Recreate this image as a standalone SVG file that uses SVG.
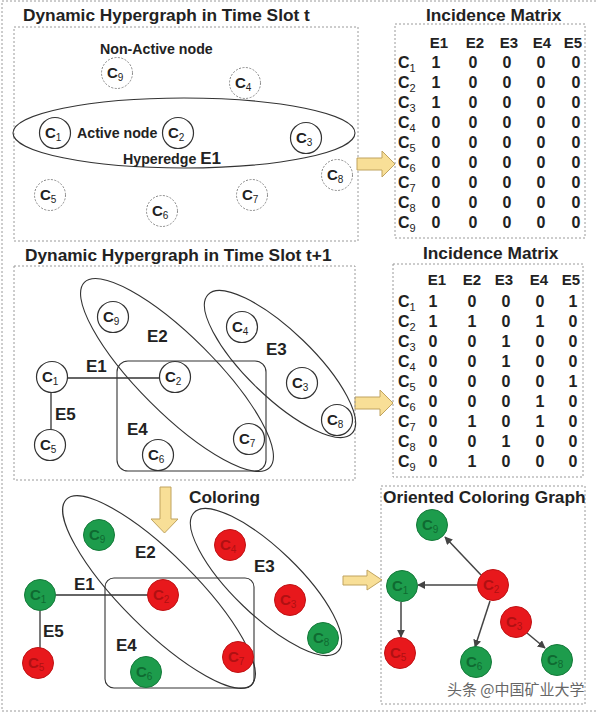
<svg xmlns="http://www.w3.org/2000/svg" width="599" height="713" viewBox="0 0 599 713">
<defs>
<style>
text{font-family:"Liberation Sans",Arial,sans-serif;fill:#222}
.title{font-size:17.3px;font-weight:bold}
.lbl{font-size:14.2px;font-weight:bold}
.el{font-size:17px;font-weight:bold}
.frame{fill:none;stroke:#9a9a9a;stroke-width:1;stroke-dasharray:2 2}
.act{fill:#fff;stroke:#333;stroke-width:1.2}
.ina{fill:#fff;stroke:#888;stroke-width:1;stroke-dasharray:2 1.5}
.nt{font-size:15px;font-weight:bold;fill:#222}
.sub{font-size:10px;font-weight:normal}
.hedge{fill:none;stroke:#333;stroke-width:1.1}
.edge{stroke:#333;stroke-width:1.3;fill:none}
.arrow{fill:#f8df97;stroke:#c0a35e;stroke-width:1}
.g{fill:#1d9c4c;stroke:#157a3a;stroke-width:1}
.r{fill:#e8181c;stroke:#c01214;stroke-width:1}
.gt{font-size:15px;font-weight:bold;fill:#0f6a31}
.rt{font-size:15px;font-weight:bold;fill:#b01012}
.mh{font-size:15px;font-weight:bold;text-anchor:middle}
.mv{font-size:16px;font-weight:bold;text-anchor:middle}
.mr{font-size:16px;font-weight:bold}
.msub{font-size:11px;font-weight:normal}
.og{stroke:#444;stroke-width:1.5;fill:none;marker-end:url(#ah)}
</style>
<marker id="ah" viewBox="0 0 10 10" refX="9" refY="5" markerWidth="8" markerHeight="8" markerUnits="userSpaceOnUse" orient="auto">
<path d="M0,0 L10,5 L0,10 z" fill="#444"/>
</marker>
</defs>
<rect width="599" height="713" fill="#fff"/>
<path class="frame" d="M596,1 H2 V711 H596"/>

<!-- Top-left panel -->
<g id="panel-t">
<text class="title" x="23" y="21">Dynamic Hypergraph in Time Slot t</text>
<rect class="frame" x="14" y="27" width="344" height="214"/>
<text class="lbl" x="100" y="54">Non-Active node</text>
<ellipse id="E1-t" class="hedge" cx="184" cy="133" rx="171" ry="35"/>
<text class="lbl" x="77" y="138">Active node</text>
<text class="lbl" x="123" y="164">Hyperedge <tspan font-size="17px">E1</tspan></text>
</g>
<g id="t-C1"><circle class="act" cx="55" cy="133" r="15.5"/><text class="nt" x="45" y="138">C<tspan class="sub" dy="3">1</tspan></text></g>
<g id="t-C2"><circle class="act" cx="178" cy="133" r="15.5"/><text class="nt" x="168" y="138">C<tspan class="sub" dy="3">2</tspan></text></g>
<g id="t-C3"><circle class="act" cx="306" cy="138" r="15.5"/><text class="nt" x="296" y="143">C<tspan class="sub" dy="3">3</tspan></text></g>
<g id="t-C4"><circle class="ina" cx="245" cy="83" r="15.5"/><text class="nt" x="235" y="88">C<tspan class="sub" dy="3">4</tspan></text></g>
<g id="t-C5"><circle class="ina" cx="50" cy="195" r="15.5"/><text class="nt" x="40" y="200">C<tspan class="sub" dy="3">5</tspan></text></g>
<g id="t-C6"><circle class="ina" cx="162" cy="211" r="15.5"/><text class="nt" x="152" y="216">C<tspan class="sub" dy="3">6</tspan></text></g>
<g id="t-C7"><circle class="ina" cx="252" cy="195" r="15.5"/><text class="nt" x="242" y="200">C<tspan class="sub" dy="3">7</tspan></text></g>
<g id="t-C8"><circle class="ina" cx="337" cy="175" r="15.5"/><text class="nt" x="327" y="180">C<tspan class="sub" dy="3">8</tspan></text></g>
<g id="t-C9"><circle class="ina" cx="117" cy="73" r="15.5"/><text class="nt" x="107" y="78">C<tspan class="sub" dy="3">9</tspan></text></g>

<!-- Arrows -->
<g id="arrows">
<path class="arrow" d="M357,158 H382 V151 L395,164 L382,177 V170 H357 Z"/>
<path class="arrow" d="M355,397 H380 V390 L393,403 L380,416 V409 H355 Z"/>
<path class="arrow" d="M343,576 H367 V570 L382,580 L367,590 V585 H343 Z"/>
<path class="arrow" d="M160,487 H171 V519 H178 L164.5,533 L151,519 H160 Z"/>
</g>

<!-- Top matrix -->
<g id="matrix-t">
<text class="title" x="426" y="21">Incidence Matrix</text>
<rect class="frame" x="395" y="24" width="190" height="214"/>
<text class="mh" y="48"><tspan x="439">E1</tspan><tspan x="475">E2</tspan><tspan x="509">E3</tspan><tspan x="542">E4</tspan><tspan x="573">E5</tspan></text>
<text class="mr" x="398" y="68">C<tspan class="msub" dy="4">1</tspan></text>
<text class="mr" x="398" y="88">C<tspan class="msub" dy="4">2</tspan></text>
<text class="mr" x="398" y="108">C<tspan class="msub" dy="4">3</tspan></text>
<text class="mr" x="398" y="128">C<tspan class="msub" dy="4">4</tspan></text>
<text class="mr" x="398" y="148">C<tspan class="msub" dy="4">5</tspan></text>
<text class="mr" x="398" y="168">C<tspan class="msub" dy="4">6</tspan></text>
<text class="mr" x="398" y="188">C<tspan class="msub" dy="4">7</tspan></text>
<text class="mr" x="398" y="208">C<tspan class="msub" dy="4">8</tspan></text>
<text class="mr" x="398" y="228">C<tspan class="msub" dy="4">9</tspan></text>
<text class="mv" y="68"><tspan x="436">1</tspan><tspan x="473">0</tspan><tspan x="507">0</tspan><tspan x="541">0</tspan><tspan x="576">0</tspan></text>
<text class="mv" y="88"><tspan x="436">1</tspan><tspan x="473">0</tspan><tspan x="507">0</tspan><tspan x="541">0</tspan><tspan x="576">0</tspan></text>
<text class="mv" y="108"><tspan x="436">1</tspan><tspan x="473">0</tspan><tspan x="507">0</tspan><tspan x="541">0</tspan><tspan x="576">0</tspan></text>
<text class="mv" y="128"><tspan x="436">0</tspan><tspan x="473">0</tspan><tspan x="507">0</tspan><tspan x="541">0</tspan><tspan x="576">0</tspan></text>
<text class="mv" y="148"><tspan x="436">0</tspan><tspan x="473">0</tspan><tspan x="507">0</tspan><tspan x="541">0</tspan><tspan x="576">0</tspan></text>
<text class="mv" y="168"><tspan x="436">0</tspan><tspan x="473">0</tspan><tspan x="507">0</tspan><tspan x="541">0</tspan><tspan x="576">0</tspan></text>
<text class="mv" y="188"><tspan x="436">0</tspan><tspan x="473">0</tspan><tspan x="507">0</tspan><tspan x="541">0</tspan><tspan x="576">0</tspan></text>
<text class="mv" y="208"><tspan x="436">0</tspan><tspan x="473">0</tspan><tspan x="507">0</tspan><tspan x="541">0</tspan><tspan x="576">0</tspan></text>
<text class="mv" y="228"><tspan x="436">0</tspan><tspan x="473">0</tspan><tspan x="507">0</tspan><tspan x="541">0</tspan><tspan x="576">0</tspan></text>
</g>

<!-- Middle panel -->
<g id="panel-t1">
<text class="title" x="25" y="261">Dynamic Hypergraph in Time Slot t+1</text>
<rect class="frame" x="14" y="266" width="341" height="214"/>
</g>
<g id="m-edges">
<ellipse class="hedge" cx="177" cy="375" rx="131" ry="38" transform="rotate(45 177 375)"/>
<ellipse class="hedge" cx="280" cy="364" rx="100" ry="33" transform="rotate(44 280 364)"/>
<rect class="hedge" x="117" y="361" width="149" height="110" rx="11"/>
<line class="edge" x1="68" y1="378" x2="159" y2="378"/>
<line class="edge" x1="51" y1="393" x2="51" y2="430"/>
<text class="el" x="86" y="372">E1</text>
<text class="el" x="147" y="342">E2</text>
<text class="el" x="266" y="355">E3</text>
<text class="el" x="127" y="435">E4</text>
<text class="el" x="55" y="420">E5</text>
</g>
<g id="m-C1"><circle class="act" cx="52" cy="377" r="15.5"/><text class="nt" x="42" y="382">C<tspan class="sub" dy="3">1</tspan></text></g>
<g id="m-C2"><circle class="act" cx="175" cy="377" r="15.5"/><text class="nt" x="165" y="382">C<tspan class="sub" dy="3">2</tspan></text></g>
<g id="m-C3"><circle class="act" cx="302" cy="383" r="15.5"/><text class="nt" x="292" y="388">C<tspan class="sub" dy="3">3</tspan></text></g>
<g id="m-C4"><circle class="act" cx="242" cy="327" r="15.5"/><text class="nt" x="232" y="332">C<tspan class="sub" dy="3">4</tspan></text></g>
<g id="m-C5"><circle class="act" cx="50" cy="445" r="15.5"/><text class="nt" x="40" y="450">C<tspan class="sub" dy="3">5</tspan></text></g>
<g id="m-C6"><circle class="act" cx="158" cy="455" r="15.5"/><text class="nt" x="148" y="460">C<tspan class="sub" dy="3">6</tspan></text></g>
<g id="m-C7"><circle class="act" cx="249" cy="439" r="15.5"/><text class="nt" x="239" y="444">C<tspan class="sub" dy="3">7</tspan></text></g>
<g id="m-C8"><circle class="act" cx="337" cy="420" r="15.5"/><text class="nt" x="327" y="425">C<tspan class="sub" dy="3">8</tspan></text></g>
<g id="m-C9"><circle class="act" cx="113" cy="317" r="15.5"/><text class="nt" x="103" y="322">C<tspan class="sub" dy="3">9</tspan></text></g>

<!-- Middle matrix -->
<g id="matrix-t1">
<text class="title" x="423" y="259">Incidence Matrix</text>
<rect class="frame" x="393" y="264" width="190" height="213"/>
<text class="mh" y="285"><tspan x="437">E1</tspan><tspan x="472">E2</tspan><tspan x="504">E3</tspan><tspan x="539">E4</tspan><tspan x="571">E5</tspan></text>
<text class="mr" x="398" y="307">C<tspan class="msub" dy="4">1</tspan></text>
<text class="mr" x="398" y="327">C<tspan class="msub" dy="4">2</tspan></text>
<text class="mr" x="398" y="347">C<tspan class="msub" dy="4">3</tspan></text>
<text class="mr" x="398" y="367">C<tspan class="msub" dy="4">4</tspan></text>
<text class="mr" x="398" y="387">C<tspan class="msub" dy="4">5</tspan></text>
<text class="mr" x="398" y="407">C<tspan class="msub" dy="4">6</tspan></text>
<text class="mr" x="398" y="427">C<tspan class="msub" dy="4">7</tspan></text>
<text class="mr" x="398" y="447">C<tspan class="msub" dy="4">8</tspan></text>
<text class="mr" x="398" y="467">C<tspan class="msub" dy="4">9</tspan></text>
<text class="mv" y="307"><tspan x="433">1</tspan><tspan x="472">0</tspan><tspan x="506">0</tspan><tspan x="540">0</tspan><tspan x="573">1</tspan></text>
<text class="mv" y="327"><tspan x="433">1</tspan><tspan x="472">1</tspan><tspan x="506">0</tspan><tspan x="540">1</tspan><tspan x="573">0</tspan></text>
<text class="mv" y="347"><tspan x="433">0</tspan><tspan x="472">0</tspan><tspan x="506">1</tspan><tspan x="540">0</tspan><tspan x="573">0</tspan></text>
<text class="mv" y="367"><tspan x="433">0</tspan><tspan x="472">0</tspan><tspan x="506">1</tspan><tspan x="540">0</tspan><tspan x="573">0</tspan></text>
<text class="mv" y="387"><tspan x="433">0</tspan><tspan x="472">0</tspan><tspan x="506">0</tspan><tspan x="540">0</tspan><tspan x="573">1</tspan></text>
<text class="mv" y="407"><tspan x="433">0</tspan><tspan x="472">0</tspan><tspan x="506">0</tspan><tspan x="540">1</tspan><tspan x="573">0</tspan></text>
<text class="mv" y="427"><tspan x="433">0</tspan><tspan x="472">1</tspan><tspan x="506">0</tspan><tspan x="540">1</tspan><tspan x="573">0</tspan></text>
<text class="mv" y="447"><tspan x="433">0</tspan><tspan x="472">0</tspan><tspan x="506">1</tspan><tspan x="540">0</tspan><tspan x="573">0</tspan></text>
<text class="mv" y="467"><tspan x="433">0</tspan><tspan x="472">1</tspan><tspan x="506">0</tspan><tspan x="540">0</tspan><tspan x="573">0</tspan></text>
</g>

<!-- Bottom-left coloring -->
<text class="title" x="189" y="503">Coloring</text>
<g id="b-edges">
<ellipse class="hedge" cx="159" cy="592" rx="131" ry="37" transform="rotate(45 159 592)"/>
<ellipse class="hedge" cx="266" cy="582" rx="100" ry="33" transform="rotate(44 266 582)"/>
<rect class="hedge" x="105" y="578" width="149" height="110" rx="9"/>
<line class="edge" x1="56" y1="595" x2="148" y2="595"/>
<line class="edge" x1="40" y1="611" x2="40" y2="648"/>
<text class="el" x="74" y="590">E1</text>
<text class="el" x="135" y="558">E2</text>
<text class="el" x="254" y="572">E3</text>
<text class="el" x="116" y="651">E4</text>
<text class="el" x="43" y="637">E5</text>
</g>
<g id="b-C1"><circle class="g" cx="40" cy="595" r="15.5"/><text class="gt" x="30" y="600">C<tspan class="sub" dy="3">1</tspan></text></g>
<g id="b-C2"><circle class="r" cx="163" cy="595" r="15.5"/><text class="rt" x="153" y="600">C<tspan class="sub" dy="3">2</tspan></text></g>
<g id="b-C3"><circle class="r" cx="290" cy="600" r="15.5"/><text class="rt" x="280" y="605">C<tspan class="sub" dy="3">3</tspan></text></g>
<g id="b-C4"><circle class="r" cx="230" cy="545" r="15.5"/><text class="rt" x="220" y="550">C<tspan class="sub" dy="3">4</tspan></text></g>
<g id="b-C5"><circle class="r" cx="38" cy="663" r="15.5"/><text class="rt" x="28" y="668">C<tspan class="sub" dy="3">5</tspan></text></g>
<g id="b-C6"><circle class="g" cx="146" cy="672" r="15.5"/><text class="gt" x="136" y="677">C<tspan class="sub" dy="3">6</tspan></text></g>
<g id="b-C7"><circle class="r" cx="238" cy="657" r="15.5"/><text class="rt" x="228" y="662">C<tspan class="sub" dy="3">7</tspan></text></g>
<g id="b-C8"><circle class="g" cx="323" cy="638" r="15.5"/><text class="gt" x="313" y="643">C<tspan class="sub" dy="3">8</tspan></text></g>
<g id="b-C9"><circle class="g" cx="99" cy="535" r="15.5"/><text class="gt" x="89" y="540">C<tspan class="sub" dy="3">9</tspan></text></g>

<!-- Bottom-right oriented graph -->
<g id="panel-og">
<rect class="frame" x="381" y="486" width="204" height="218"/>
<text class="title" x="383" y="503">Oriented Coloring Graph</text>
<text x="447" y="695" style="fill:#666;font-family:'Noto Sans CJK SC',sans-serif;font-size:15px">头条 @中国矿业大学</text>
</g>
<g id="og-edges">
<line class="og" x1="481" y1="575" x2="445" y2="537"/>
<line class="og" x1="477" y1="585" x2="418" y2="585"/>
<line class="og" x1="401" y1="602" x2="401" y2="637"/>
<line class="og" x1="490" y1="601" x2="475" y2="647"/>
<line class="og" x1="527" y1="633" x2="545" y2="648"/>
</g>
<g id="og-C9"><circle class="g" cx="432" cy="525" r="15.5"/><text class="gt" x="422" y="530">C<tspan class="sub" dy="3">9</tspan></text></g>
<g id="og-C1"><circle class="g" cx="402" cy="586" r="15.5"/><text class="gt" x="392" y="591">C<tspan class="sub" dy="3">1</tspan></text></g>
<g id="og-C2"><circle class="r" cx="493" cy="585" r="15.5"/><text class="rt" x="483" y="590">C<tspan class="sub" dy="3">2</tspan></text></g>
<g id="og-C3"><circle class="r" cx="516" cy="622" r="15.5"/><text class="rt" x="506" y="627">C<tspan class="sub" dy="3">3</tspan></text></g>
<g id="og-C5"><circle class="r" cx="400" cy="653" r="15.5"/><text class="rt" x="390" y="658">C<tspan class="sub" dy="3">5</tspan></text></g>
<g id="og-C6"><circle class="g" cx="476" cy="662" r="15.5"/><text class="gt" x="466" y="667">C<tspan class="sub" dy="3">6</tspan></text></g>
<g id="og-C8"><circle class="g" cx="557" cy="660" r="15.5"/><text class="gt" x="547" y="665">C<tspan class="sub" dy="3">8</tspan></text></g>
</svg>
